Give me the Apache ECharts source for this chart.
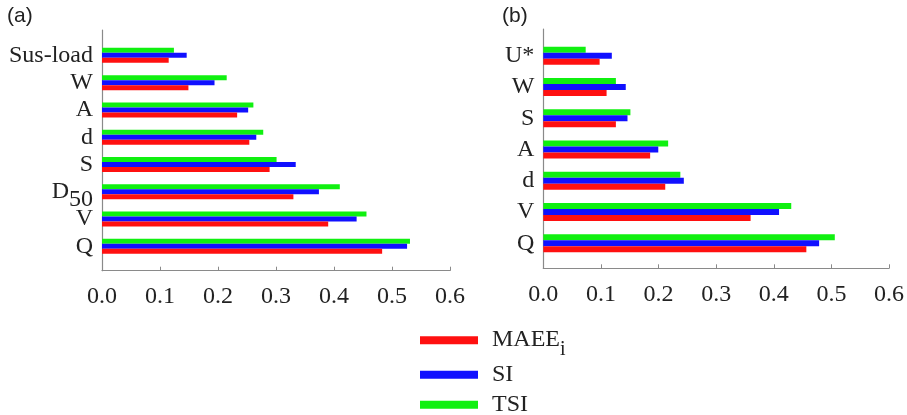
<!DOCTYPE html>
<html>
<head>
<meta charset="utf-8">
<script src="https://cdn.jsdelivr.net/npm/echarts@6/dist/echarts.min.js"></script>
<style>html,body{margin:0;padding:0;background:#fff;}#c{width:907px;height:415px;}</style>
</head>
<body>
<div id="c"></div>
<script>
// Panel (a) categories, bottom to top
var catsA = ['Q', 'V', 'D50', 'S', 'd', 'A', 'W', 'Sus-load'];
var maeeA = [0.483, 0.390, 0.330, 0.289, 0.254, 0.233, 0.149, 0.115];
var siA   = [0.526, 0.439, 0.374, 0.334, 0.266, 0.252, 0.194, 0.146];
var tsiA  = [0.531, 0.456, 0.410, 0.301, 0.278, 0.261, 0.215, 0.124];

// Panel (b) categories, bottom to top
var catsB = ['Q', 'V', 'd', 'A', 'S', 'W', 'U*'];
var maeeB = [0.453, 0.357, 0.210, 0.184, 0.125, 0.109, 0.097];
var siB   = [0.475, 0.406, 0.242, 0.198, 0.145, 0.142, 0.118];
var tsiB  = [0.502, 0.427, 0.236, 0.215, 0.150, 0.125, 0.073];

var tickMin = 0, tickMax = 0.6, tickStep = 0.1;
var seriesNames = ['MAEE', 'SI', 'TSI'];
var colors = ['#ff1010', '#1010ff', '#10f010'];

var serif = 'Liberation Serif';
var txt = '#222';
var axisCol = '#8a8a8a';

function frameX(gi) {
  return {
    gridIndex: gi, type: 'value', min: tickMin, max: tickMax, interval: tickStep,
    axisLine: {show: true, lineStyle: {color: axisCol, width: 1.2}},
    axisTick: {show: true, inside: true, length: 4, lineStyle: {color: axisCol}},
    splitLine: {show: false},
    axisLabel: {fontFamily: serif, fontSize: 24, color: txt, margin: 14,
      formatter: function (v) { return v.toFixed(1); }}
  };
}
function hiddenX(gi) {
  return {gridIndex: gi, type: 'value', min: tickMin, max: tickMax, show: false, splitLine: {show: false}};
}
function frameY(gi) {
  return {
    gridIndex: gi, type: 'value', min: 0, max: 1,
    axisLine: {show: true, lineStyle: {color: axisCol, width: 1.2}},
    axisTick: {show: false}, axisLabel: {show: false}, splitLine: {show: false}
  };
}
function catY(gi, cats) {
  return {
    gridIndex: gi, type: 'category', data: cats,
    axisLine: {show: false}, axisTick: {show: false}, splitLine: {show: false},
    axisLabel: {
      interval: 0,
      fontFamily: serif, fontSize: 24, color: txt, margin: 9,
      formatter: function (v) {
        if (v === 'D50') return '{d|D}{s|50}';
        return v;
      },
      rich: {
        d: {fontFamily: serif, fontSize: 24, color: txt, lineHeight: 24, padding: [0, 0, 0, 0], verticalAlign: 'top'},
        s: {fontFamily: serif, fontSize: 24, color: txt, lineHeight: 24, padding: [8, 0, 0, 0], verticalAlign: 'top'}
      }
    }
  };
}
function bars(xi, yi, vals, idx, w) {
  return {
    name: seriesNames[idx], type: 'bar', xAxisIndex: xi, yAxisIndex: yi,
    data: vals, barWidth: w, barGap: '0%',
    itemStyle: {color: colors[idx]}, silent: true, animation: false
  };
}
function legendItem(name, top) {
  return {
    data: [name], left: 420, top: top, orient: 'vertical', icon: 'rect',
    itemWidth: 58, itemHeight: 8, padding: 0, selectedMode: false,
    textStyle: {fontFamily: serif, fontSize: 24, color: txt, padding: [0, 0, 0, 9],
      rich: {
        m: {fontFamily: serif, fontSize: 24, color: txt, lineHeight: 24, padding: [0, 0, 0, 0], verticalAlign: 'top'},
        i: {fontFamily: serif, fontSize: 20, color: txt, lineHeight: 20, padding: [12, 0, 0, 0], verticalAlign: 'top'}
      }},
    formatter: function (n) { return n === 'MAEE' ? '{m|MAEE}{i|i}' : n; }
  };
}

var chart = echarts.init(document.getElementById('c'), null, {renderer: 'canvas'});
chart.setOption({
  animation: false,
  backgroundColor: '#fff',
  title: [
    {text: '(a)', left: 7, top: 6, padding: 0, textStyle: {fontFamily: 'Liberation Sans', fontSize: 21, fontWeight: 'normal', color: txt}},
    {text: '(b)', left: 502, top: 6, padding: 0, textStyle: {fontFamily: 'Liberation Sans', fontSize: 21, fontWeight: 'normal', color: txt}}
  ],
  grid: [
    {left: 102, top: 30, width: 348, height: 240.7},
    {left: 102, top: 41.7, width: 348, height: 218.3},
    {left: 543.3, top: 29, width: 348.4, height: 239.3},
    {left: 543.3, top: 40, width: 348.4, height: 219}
  ],
  xAxis: [frameX(0), hiddenX(1), frameX(2), hiddenX(3)],
  yAxis: [frameY(0), catY(1, catsA), frameY(2), catY(3, catsB)],
  legend: [legendItem('MAEE', 328.2), legendItem('SI', 362.8), legendItem('TSI', 392.8)],
  series: [
    bars(1, 1, tsiA, 2, 5), bars(1, 1, siA, 1, 5), bars(1, 1, maeeA, 0, 5),
    bars(3, 3, tsiB, 2, 6), bars(3, 3, siB, 1, 6), bars(3, 3, maeeB, 0, 6)
  ]
});
</script>
</body>
</html>
